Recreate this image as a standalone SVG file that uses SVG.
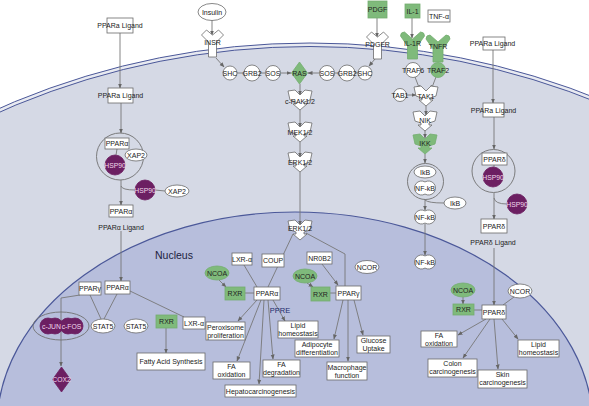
<svg xmlns="http://www.w3.org/2000/svg" width="589" height="406" viewBox="0 0 589 406">
<defs>
<style>
.t{font-family:"Liberation Sans",Arial,sans-serif;font-size:7px;fill:#222;text-anchor:middle}
.tw{fill:#f2d9ec;font-size:6.8px}
.b{fill:#fff;stroke:#6a6a6a;stroke-width:0.8}
.g{fill:#7fba7b;stroke:#74ad70;stroke-width:0.8}
.p{fill:#6c1f62;stroke:#6c1f62;stroke-width:0.8}
.cx{fill:none;stroke:#707070;stroke-width:0.9}
.l{fill:none;stroke:#777;stroke-width:0.9}
.a{marker-end:url(#ah)}
.sh{stroke-linejoin:round}
</style>
<marker id="ah" viewBox="0 0 10 10" refX="9" refY="5" markerWidth="5" markerHeight="5" orient="auto" markerUnits="userSpaceOnUse"><path d="M0,1 L10,5 L0,9 Z" fill="#666"/></marker>
<path id="kin" d="M-12,1 L-5,0 L0,5 L5,0 L12,1 L10,10 L4,12 L4,14 L7,14 L0,20 L-7,14 L-4,14 L-4,12 L-10,10 Z"/>
<path id="rec" d="M-11,5 L-6,0 L0,5 L6,0 L11,5 L4,12 L4,27 L-4,27 L-4,12 Z"/>
<path id="yr" d="M-12,3 Q-12,-1 -8,-1 L0,6 L8,-1 Q12,-1 12,3 L5,13 L5,26 L-5,26 L-5,13 Z"/>
<path id="nfkb" d="M0,-6.06 A7,7 0 1,0 0,6.06 A7,7 0 1,0 0,-6.06 Z"/>
</defs>
<rect x="0" y="0" width="589" height="406" fill="#fff"/>
<g id="cell">
<circle cx="310" cy="815" r="772" fill="#e8eaf1" stroke="#4b5899" stroke-width="1"/>
<circle cx="310" cy="815" r="768.5" fill="#d5d9e5" stroke="#4b5899" stroke-width="1"/>
</g>
<g id="nucleus">
<ellipse cx="295" cy="427" rx="298" ry="215" fill="#b7bedc" stroke="#4b5899" stroke-width="1.2"/>
<text x="155" y="259" style="font-family:'Liberation Sans',Arial,sans-serif;font-size:10.5px;fill:#1c2240">Nucleus</text>
</g>
<g id="connectors">
<path class="l a" d="M120,33 L120,88"/>
<path class="l a" d="M121,103 L121,133"/>
<path class="l" d="M117,149 L116,155"/>
<path class="l a" d="M121,180 L121,205"/>
<path class="l" d="M121,186 Q122,190 135,190"/>
<path class="l" d="M155,190 L165,191"/>
<path class="l a" d="M121,231 L121,281"/>
<path class="l a" d="M80,295 L61,298 L61,366"/>
<path class="l" d="M90,295 L101,319"/>
<path class="l" d="M117,294 L104,319"/>
<path class="l" d="M130,291 L184,317"/>
<path class="l a" d="M166,328 L166,353"/>
<path class="l a" d="M212,20 L212,35"/>
<path class="l a" d="M216,58 L224,67"/>
<path class="l" d="M237,73 L244,73 M260,73 L265,73"/>
<path class="l a" d="M281,73 L291,73"/>
<path class="l a" d="M319,73 L308,73"/>
<path class="l" d="M339,73 L334,73 M358,73 L355,73"/>
<path class="l a" d="M377,18 L377,37"/>
<path class="l a" d="M375,59 L369,66"/>
<path class="l a" d="M300,84 L300,95"/>
<path class="l a" d="M300,110 L300,127"/>
<path class="l a" d="M300,142 L300,157"/>
<path class="l a" d="M300,172 L300,225"/>
<path class="l" d="M293,234 L268,287"/>
<path class="l" d="M306,233 L345,254 L345,286"/>
<path class="l" d="M244,265 L257,287"/>
<path class="l a" d="M219,280 L226,287"/>
<path class="l" d="M245,293 L254,293"/>
<path class="l a" d="M257,300 L238,321"/>
<path class="l a" d="M261,300 L237,361"/>
<path class="l a" d="M264,300 L259,384"/>
<path class="l a" d="M268,300 L273,359"/>
<path class="l a" d="M273,300 L285,321"/>
<path class="l a" d="M307,283 L313,287"/>
<path class="l" d="M330,293 L336,293"/>
<path class="l a" d="M322,264 L338,285"/>
<path class="l a" d="M343,300 L334,339"/>
<path class="l a" d="M348,300 L348,361"/>
<path class="l a" d="M354,300 L363,335"/>
<path class="l a" d="M412,18 L412,38"/>
<path class="l a" d="M415,77 L420,90"/>
<path class="l a" d="M436,77 L431,90"/>
<path class="l a" d="M407,95 L416,95"/>
<path class="l a" d="M426,106 L426,115"/>
<path class="l a" d="M425,130 L425,138"/>
<path class="l a" d="M425,154 L425,163"/>
<path class="l a" d="M425,199 L425,210"/>
<path class="l" d="M425,200 Q428,203 444,203"/>
<path class="l a" d="M425,224 L425,255"/>
<path class="l a" d="M493,50 L493,103"/>
<path class="l a" d="M494,117 L494,149"/>
<path class="l" d="M494,165 L494,167"/>
<path class="l a" d="M494,193 L494,219"/>
<path class="l" d="M494,198 Q495,204 507,204"/>
<path class="l a" d="M494,248 L494,305"/>
<path class="l a" d="M463,297 L463,304"/>
<path class="l" d="M474,310 L482,310"/>
<path class="l" d="M514,297 L503,305"/>
<path class="l a" d="M486,319 L458,335"/>
<path class="l a" d="M490,319 L463,358"/>
<path class="l a" d="M494,319 L498,369"/>
<path class="l a" d="M502,319 L518,339"/>
</g>
<g id="ppara-ligand-out"><rect class="b" x="107" y="18" width="26" height="15"/><text class="t" x="120" y="28">PPARa Ligand</text></g>
<g id="ppara-ligand-in"><rect class="b" x="108" y="88" width="25" height="15"/><text class="t" x="120.5" y="98">PPARa Ligand</text></g>
<g id="ppara-complex">
<circle class="cx" cx="120" cy="156.5" r="23.5"/>
<rect class="b" x="105" y="138" width="24" height="11"/><text class="t" x="117" y="146">PPARα</text>
<circle class="p" cx="115" cy="165" r="10"/><text class="t tw" x="115" y="167.5">HSP90</text>
<ellipse class="b" cx="136" cy="155" rx="11" ry="6"/><text class="t" x="136" y="157.5">XAP2</text>
</g>
<g id="hsp90-a"><circle class="p" cx="145" cy="190" r="10"/><text class="t tw" x="145" y="192.5">HSP90</text></g>
<g id="xap2-a"><ellipse class="b" cx="177" cy="191" rx="12" ry="6"/><text class="t" x="177" y="193.5">XAP2</text></g>
<g id="ppara-cyt"><rect class="b" x="109" y="205" width="24" height="12"/><text class="t" x="121" y="213.5">PPARα</text><text class="t" x="121" y="229.5">PPARα Ligand</text></g>
<g id="pparg-left"><rect class="b" x="79" y="282" width="22" height="13"/><text class="t" x="90" y="291">PPARγ</text></g>
<g id="ppara-left"><rect class="b" x="105" y="281" width="25" height="13"/><text class="t" x="117.5" y="290">PPARα</text></g>
<g id="cjun-cfos">
<ellipse class="cx" cx="61" cy="326" rx="28" ry="14"/>
<circle class="p" cx="48" cy="326" r="8"/><circle class="p" cx="55" cy="326" r="8"/>
<circle class="p" cx="68" cy="326" r="8"/><circle class="p" cx="75" cy="326" r="8"/>
<text class="t tw" x="51.5" y="328.5">c-JUN</text><text class="t tw" x="71.5" y="328.5">c-FOS</text>
</g>
<g id="cox2"><polygon class="p" points="61.5,367 70.5,379.5 61.5,392 52.5,379.5"/><text class="t tw" x="61.5" y="382">COX2</text></g>
<g id="stat5-a"><ellipse class="b" cx="103" cy="326" rx="12" ry="7"/><text class="t" x="103" y="328.5">STAT5</text></g>
<g id="stat5-b"><ellipse class="b" cx="136" cy="326" rx="12" ry="7"/><text class="t" x="136" y="328.5">STAT5</text></g>
<g id="rxr-left"><rect class="g" x="156" y="315" width="21" height="13"/><text class="t" x="166.5" y="324">RXR</text></g>
<g id="lxra-left"><rect class="b" x="183" y="317" width="22" height="12"/><text class="t" x="194" y="325.5">LXR-α</text></g>
<g id="fas"><rect class="b" x="137" y="353" width="68" height="17"/><text class="t" x="171" y="364">Fatty Acid Synthesis</text></g>
<g id="insulin"><ellipse class="b" cx="212" cy="12" rx="14" ry="8.5"/><text class="t" x="212" y="14.5">Insulin</text></g>
<g id="insr"><use href="#rec" x="212.5" y="30" class="b sh"/><text class="t" x="212.5" y="45">INSR</text></g>
<g id="shc-a"><circle class="b" cx="230" cy="73" r="7"/><text class="t" x="230" y="75.5">SHC</text></g>
<g id="grb2-a"><circle class="b" cx="252" cy="73" r="8"/><text class="t" x="252" y="75.5">GRB2</text></g>
<g id="sos-a"><circle class="b" cx="273" cy="73" r="7.5"/><text class="t" x="273" y="75.5">SOS</text></g>
<g id="ras"><polygon class="g" points="299.5,62 307.5,73 299.5,84 291.5,73"/><text class="t" x="299.5" y="75.5">RAS</text></g>
<g id="sos-b"><circle class="b" cx="327" cy="73" r="7.5"/><text class="t" x="327" y="75.5">SOS</text></g>
<g id="grb2-b"><circle class="b" cx="347" cy="73" r="8"/><text class="t" x="347" y="75.5">GRB2</text></g>
<g id="shc-b"><circle class="b" cx="365" cy="73" r="7"/><text class="t" x="365" y="75.5">SHC</text></g>
<g id="pdgf"><rect class="g" x="368" y="1" width="19" height="17"/><text class="t" x="377.5" y="12">PDGF</text></g>
<g id="pdgfr"><use href="#rec" x="377.5" y="32" class="b sh"/><text class="t" x="377.5" y="47">PDGFR</text></g>
<g id="craf"><use href="#kin" x="300" y="90" class="b sh"/><text class="t" x="300" y="103.5">c-RAK1/2</text></g>
<g id="mek"><use href="#kin" x="300" y="122" class="b sh"/><text class="t" x="300" y="135">MEK1/2</text></g>
<g id="erk-cyt"><use href="#kin" x="300" y="152" class="b sh"/><text class="t" x="300" y="165">ERK1/2</text></g>
<g id="erk-nuc"><use href="#kin" x="300" y="220" class="b sh"/><text class="t" x="300" y="231">ERK1/2</text></g>
<g id="lxra-mid"><rect class="b" x="232" y="253" width="20" height="12"/><text class="t" x="242" y="261.5">LXR-α</text></g>
<g id="coup"><rect class="b" x="262" y="254" width="22" height="13"/><text class="t" x="273" y="263">COUP</text></g>
<g id="nr0b2"><rect class="b" x="307" y="252" width="25" height="12"/><text class="t" x="319.5" y="260.5">NR0B2</text></g>
<g id="ncor-mid"><ellipse class="b" cx="367" cy="267" rx="12" ry="6.5"/><text class="t" x="367" y="269.5">NCOR</text></g>
<g id="ncoa-a"><ellipse class="g" cx="217" cy="273" rx="12" ry="7"/><text class="t" x="217" y="275.5">NCOA</text></g>
<g id="rxr-a"><rect class="g" x="225" y="287" width="20" height="13"/><text class="t" x="235" y="296">RXR</text></g>
<g id="ppara-mid"><rect class="b" x="254" y="287" width="26" height="13"/><text class="t" x="267" y="296">PPARα</text></g>
<text class="t" x="280" y="313" style="fill:#1e2a6a;font-size:7.5px">PPRE</text>
<g id="perox"><rect class="b" x="206" y="322" width="39" height="18"/><text class="t" x="225.5" y="329.5">Peroxisome</text><text class="t" x="225.5" y="337.5">proliferation</text></g>
<g id="lipid-a"><rect class="b" x="278" y="321" width="40" height="17"/><text class="t" x="298" y="328">Lipid</text><text class="t" x="298" y="335.5">homeostasis</text></g>
<g id="faox-a"><rect class="b" x="213" y="362" width="37" height="17"/><text class="t" x="231.5" y="369">FA</text><text class="t" x="231.5" y="377">oxidation</text></g>
<g id="fadeg"><rect class="b" x="263" y="360" width="37" height="17"/><text class="t" x="281.5" y="367">FA</text><text class="t" x="281.5" y="375">degradation</text></g>
<g id="hepato"><rect class="b" x="225" y="385" width="71" height="12"/><text class="t" x="260.5" y="393.5">Hepatocarcinogenesis</text></g>
<g id="ncoa-b"><ellipse class="g" cx="305" cy="276" rx="12" ry="7"/><text class="t" x="305" y="278.5">NCOA</text></g>
<g id="rxr-b"><rect class="g" x="311" y="287" width="19" height="14"/><text class="t" x="320.5" y="296.5">RXR</text></g>
<g id="pparg-mid"><rect class="b" x="336" y="286" width="25" height="14"/><text class="t" x="348.5" y="295.5">PPARγ</text></g>
<g id="adipo"><rect class="b" x="295" y="340" width="44" height="17"/><text class="t" x="317" y="347">Adipocyte</text><text class="t" x="317" y="355">differentiation</text></g>
<g id="macro"><rect class="b" x="327" y="362" width="40" height="18"/><text class="t" x="347" y="369.5">Macrophage</text><text class="t" x="347" y="377.5">function</text></g>
<g id="glucose"><rect class="b" x="357" y="336" width="33" height="17"/><text class="t" x="373.5" y="343">Glucose</text><text class="t" x="373.5" y="351">Uptake</text></g>
<g id="il1"><rect class="g" x="405" y="4" width="15" height="14"/><text class="t" x="412.5" y="13.5">IL-1</text></g>
<g id="tnfa"><rect class="b" x="428" y="10" width="22" height="12"/><text class="t" x="439" y="18.5">TNF-α</text></g>
<g id="il1r"><use href="#yr" x="412.5" y="33" class="g sh"/><text class="t" x="412.5" y="46">IL-1R</text></g>
<g id="tnfr"><use href="#yr" x="438" y="36" class="g sh"/><text class="t" x="438" y="49">TNFR</text></g>
<g id="traf6"><circle class="b" cx="413" cy="70" r="7.5"/><text class="t" x="413" y="72.5">TRAF6</text></g>
<g id="traf2"><circle class="g" cx="438" cy="70" r="7.5"/><text class="t" x="438" y="72.5">TRAF2</text></g>
<g id="tab1"><circle class="b" cx="400" cy="95" r="6.5"/><text class="t" x="400" y="97.5">TAB1</text></g>
<g id="tak1"><use href="#kin" x="426" y="86" class="b sh"/><text class="t" x="426" y="98.5">TAK1</text></g>
<g id="nik"><use href="#kin" x="425" y="111" class="b sh"/><text class="t" x="425" y="123">NIK</text></g>
<g id="ikk"><use href="#kin" x="425" y="134" class="g sh"/><text class="t" x="425" y="146">IKK</text></g>
<g id="nfkb-complex">
<circle class="cx" cx="425.5" cy="181.5" r="18"/>
<ellipse class="b" cx="425" cy="172" rx="11" ry="6"/><text class="t" x="425" y="174.5">IkB</text>
<use href="#nfkb" x="425" y="188" class="b"/><text class="t" x="425" y="190.5">NF-kB</text>
</g>
<g id="ikb-out"><ellipse class="b" cx="455" cy="203" rx="11" ry="6"/><text class="t" x="455" y="205.5">IkB</text></g>
<g id="nfkb-cyt"><use href="#nfkb" x="425" y="217" class="b"/><text class="t" x="425" y="219.5">NF-kB</text></g>
<g id="nfkb-nuc"><use href="#nfkb" x="425" y="262" class="b"/><text class="t" x="425" y="264.5">NF-kB</text></g>
<g id="ppard-ligand-out"><rect class="b" x="483" y="37" width="22" height="13"/><text class="t" x="492.5" y="46">PPARa Ligand</text></g>
<g id="ppard-ligand-in"><rect class="b" x="483" y="103" width="21" height="14"/><text class="t" x="493.5" y="112.5">PPARa Ligand</text></g>
<g id="ppard-complex">
<circle class="cx" cx="493.5" cy="171" r="21.5"/>
<rect class="b" x="482" y="153" width="25" height="12"/><text class="t" x="494.5" y="161.5">PPARδ</text>
<circle class="p" cx="493" cy="177" r="10"/><text class="t tw" x="493" y="179.5">HSP90</text>
</g>
<g id="hsp90-d"><circle class="p" cx="517" cy="204" r="10"/><text class="t tw" x="517" y="206.5">HSP90</text></g>
<g id="ppard-cyt"><rect class="b" x="481" y="219" width="26" height="14"/><text class="t" x="494" y="228.5">PPARδ</text><text class="t" x="493" y="244.5">PPARδ Ligand</text></g>
<g id="ncoa-d"><ellipse class="g" cx="463" cy="290" rx="12" ry="7"/><text class="t" x="463" y="292.5">NCOA</text></g>
<g id="rxr-d"><rect class="g" x="453" y="304" width="21" height="11"/><text class="t" x="463.5" y="312">RXR</text></g>
<g id="ppard-nuc"><rect class="b" x="482" y="305" width="24" height="14"/><text class="t" x="494" y="314.5">PPARδ</text></g>
<g id="ncor-d"><ellipse class="b" cx="520" cy="291" rx="12" ry="7"/><text class="t" x="520" y="293.5">NCOR</text></g>
<g id="faox-d"><rect class="b" x="421" y="331" width="36" height="16"/><text class="t" x="439" y="338">FA</text><text class="t" x="439" y="345.5">oxidation</text></g>
<g id="colon"><rect class="b" x="428" y="359" width="49" height="18"/><text class="t" x="452.5" y="366">Colon</text><text class="t" x="452.5" y="374">carcinogenesis</text></g>
<g id="skin"><rect class="b" x="478" y="370" width="49" height="18"/><text class="t" x="502.5" y="377">Skin</text><text class="t" x="502.5" y="385">carcinogenesis</text></g>
<g id="lipid-d"><rect class="b" x="518" y="340" width="41" height="17"/><text class="t" x="538.5" y="347">Lipid</text><text class="t" x="538.5" y="355">homeostasis</text></g>
</svg>
